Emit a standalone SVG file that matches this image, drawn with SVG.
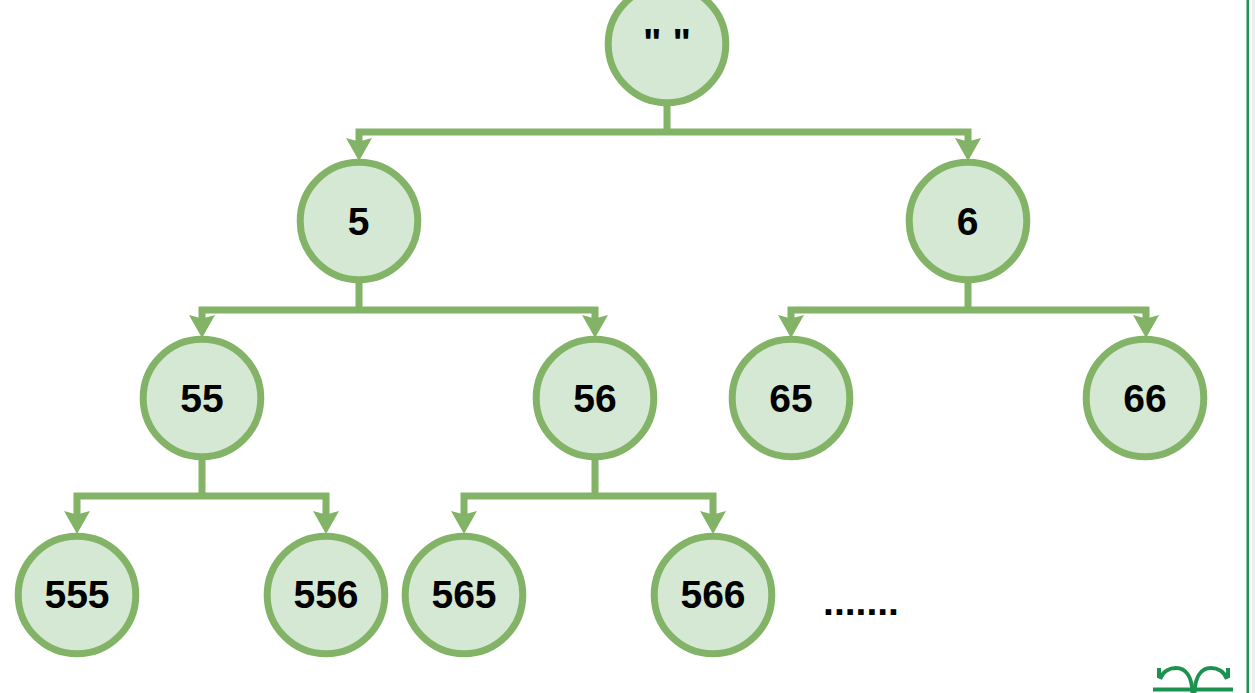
<svg xmlns="http://www.w3.org/2000/svg" width="1255" height="693" viewBox="0 0 1255 693">
<style>
.n{fill:#d5e8d4;stroke:#82b366;stroke-width:7}
.t{font-family:"Liberation Sans",Arial,sans-serif;font-weight:700;font-size:39px;fill:#000;text-anchor:middle}
.c{fill:none;stroke:#82b366;stroke-width:7}
.h{fill:#82b366}
.l{fill:none;stroke:#1d9150;stroke-width:4}
</style>
<defs>
<path id="a" class="h" d="M0 0L-13 -23L0 -19.500L13 -23Z"/>
</defs>
<rect width="1255" height="693" fill="#fff"/>
<rect x="1246.500" y="0" width="2.500" height="693" fill="#1d9150"/>
<rect x="1252" y="0" width="3" height="693" fill="#ececec"/>
<g id="connectors">
<path class="c" d="M667 103V132M359 145V132H968V145"/>
<path class="c" d="M359 280V310M202 322V310H595V322"/>
<path class="c" d="M968 280V310M791 322V310H1146V322"/>
<path class="c" d="M202 457V496M77 518V496H326V518"/>
<path class="c" d="M595 457V496M464 518V496H713V518"/>
<use href="#a" x="359" y="161"/><use href="#a" x="968" y="161"/>
<use href="#a" x="202" y="338"/><use href="#a" x="595" y="338"/>
<use href="#a" x="791" y="338"/><use href="#a" x="1146" y="338"/>
<use href="#a" x="77" y="534"/><use href="#a" x="326" y="534"/>
<use href="#a" x="464" y="534"/><use href="#a" x="713" y="534"/>
</g>
<g id="root"><circle class="n" cx="667" cy="44" r="58.800"/><text class="t" x="667" y="56">" "</text></g>
<g id="n5"><circle class="n" cx="359" cy="221" r="58.800"/><text class="t" x="358.500" y="234.500">5</text></g>
<g id="n6"><circle class="n" cx="968" cy="221" r="58.800"/><text class="t" x="967.500" y="234.500">6</text></g>
<g id="n55"><circle class="n" cx="202" cy="398" r="58.800"/><text class="t" x="202" y="411.500">55</text></g>
<g id="n56"><circle class="n" cx="595" cy="398" r="58.800"/><text class="t" x="595" y="411.500">56</text></g>
<g id="n65"><circle class="n" cx="791" cy="398" r="58.800"/><text class="t" x="791" y="411.500">65</text></g>
<g id="n66"><circle class="n" cx="1145" cy="398" r="58.800"/><text class="t" x="1145" y="411.500">66</text></g>
<g id="n555"><circle class="n" cx="77" cy="595" r="58.800"/><text class="t" x="77" y="607.500">555</text></g>
<g id="n556"><circle class="n" cx="326" cy="595" r="58.800"/><text class="t" x="326" y="607.500">556</text></g>
<g id="n565"><circle class="n" cx="464" cy="595" r="58.800"/><text class="t" x="464" y="607.500">565</text></g>
<g id="n566"><circle class="n" cx="713" cy="595" r="58.800"/><text class="t" x="713" y="607.500">566</text></g>
<text class="t" x="861" y="615">.......</text>
<g id="logo">
<path class="l" stroke-width="3" d="M1160 679C1163 671 1170 668 1176 668C1186 668 1192 677 1192.500 693"/>
<path class="l" stroke-width="3" d="M1227 679C1224 671 1217 668 1211 668C1201 668 1195 677 1194.500 693"/>
<path class="l" stroke-width="2" d="M1159 668V678M1228 668V678"/>
<path class="l" stroke-width="2.500" d="M1153 689.500H1233"/>
</g>
</svg>
